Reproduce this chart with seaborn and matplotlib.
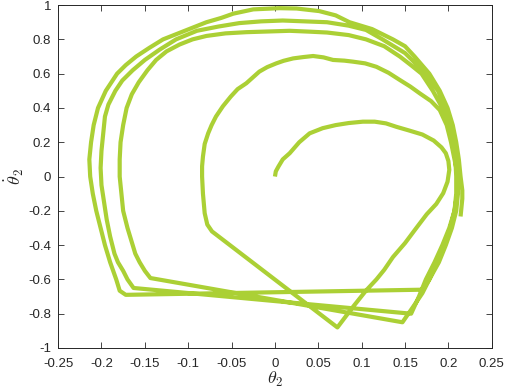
import matplotlib
matplotlib.use("Agg")
import matplotlib.pyplot as plt
import seaborn as sns
import pandas as pd

# Phase trajectory (theta_2, theta_2 dot)
theta2 = [
    # loop 1 (from origin)
    0.0, 0.001, 0.004, 0.009, 0.017, 0.028, 0.04, 0.055, 0.07, 0.085, 0.1014, 0.115, 0.128, 0.14,
    0.155, 0.17, 0.183, 0.192, 0.197, 0.2, 0.201, 0.199, 0.194, 0.186, 0.175, 0.163, 0.15, 0.136,
    0.126, 0.117, 0.105, 0.09, 0.072,
    # jump, loop 2
    -0.0726, -0.078, -0.081, -0.083, -0.084, -0.084, -0.083, -0.081, -0.077, -0.073, -0.068, -0.06,
    -0.051, -0.043, -0.033, -0.025, -0.018, -0.009, 0.0015, 0.01, 0.021, 0.033, 0.044, 0.056,
    0.067, 0.08, 0.09, 0.104, 0.117, 0.131, 0.144, 0.156, 0.167, 0.18, 0.19, 0.198, 0.203, 0.207,
    0.209, 0.211, 0.21, 0.207, 0.202, 0.195, 0.187, 0.178, 0.17, 0.162, 0.147,
    # jump, loop 3
    -0.1436, -0.15, -0.156, -0.161, -0.164, -0.17, -0.175, -0.177, -0.179, -0.179, -0.178, -0.175,
    -0.171, -0.165, -0.157, -0.147, -0.137, -0.125, -0.11, -0.095, -0.079, -0.057, -0.033, -0.008,
    0.017, 0.04, 0.06, 0.085, 0.105, 0.126, 0.144, 0.158, 0.169, 0.182, 0.193, 0.2, 0.205, 0.208,
    0.209, 0.209, 0.207, 0.201, 0.193, 0.184, 0.174, 0.166, 0.157,
    # jump, loop 4
    -0.163, -0.17, -0.175, -0.181, -0.185, -0.19, -0.194, -0.197, -0.2, -0.201, -0.2, -0.198,
    -0.196, -0.192, -0.184, -0.176, -0.164, -0.15, -0.133, -0.114, -0.09, -0.065, -0.041, -0.016,
    0.009, 0.035, 0.06, 0.085, 0.105, 0.124, 0.15, 0.174, 0.188, 0.197, 0.203, 0.207, 0.21,
    0.211, 0.211, 0.209, 0.204, 0.197, 0.189, 0.178, 0.17,
    # jump, loop 5
    -0.172, -0.179, -0.183, -0.19, -0.196, -0.201, -0.206, -0.21, -0.213, -0.214, -0.212, -0.209,
    -0.204, -0.195, -0.182, -0.172, -0.16, -0.145, -0.129, -0.104, -0.079, -0.062, -0.048, -0.025,
    0.005, 0.025, 0.051, 0.07, 0.086, 0.112, 0.136, 0.15, 0.161, 0.178, 0.19, 0.199, 0.205, 0.209,
    0.212, 0.214, 0.216, 0.216, 0.215, 0.214,
]
theta2_dot = [
    0.0, 0.03, 0.058, 0.1, 0.136, 0.2, 0.252, 0.282, 0.3, 0.312, 0.32, 0.32, 0.31, 0.29,
    0.268, 0.245, 0.21, 0.17, 0.136, 0.09, 0.039, -0.03, -0.097, -0.16, -0.22, -0.3, -0.388, -0.47,
    -0.544, -0.6, -0.665, -0.76, -0.88,
    -0.32, -0.28, -0.214, -0.1, 0.0, 0.06, 0.117, 0.19, 0.252, 0.3, 0.35, 0.41,
    0.466, 0.51, 0.544, 0.58, 0.612, 0.638, 0.66, 0.675, 0.689, 0.697, 0.703, 0.695,
    0.68, 0.676, 0.67, 0.66, 0.64, 0.605, 0.563, 0.525, 0.485, 0.44, 0.388, 0.3, 0.2, 0.1,
    0.05, 0.0, -0.1, -0.2, -0.3, -0.4, -0.5, -0.6, -0.68, -0.74, -0.85,
    -0.592, -0.55, -0.5, -0.45, -0.4, -0.3, -0.2, -0.1, 0.0, 0.1, 0.2, 0.3,
    0.4, 0.48, 0.55, 0.62, 0.68, 0.73, 0.77, 0.8, 0.82, 0.835, 0.842, 0.846,
    0.85, 0.845, 0.84, 0.825, 0.8, 0.76, 0.7, 0.645, 0.6, 0.5, 0.4, 0.3, 0.2, 0.1,
    0.0, -0.1, -0.2, -0.3, -0.4, -0.5, -0.6, -0.7, -0.8,
    -0.65, -0.6, -0.55, -0.5, -0.45, -0.35, -0.25, -0.15, -0.05, 0.05, 0.15, 0.25,
    0.35, 0.42, 0.5, 0.56, 0.62, 0.68, 0.74, 0.8, 0.85, 0.875, 0.895, 0.905,
    0.91, 0.905, 0.9, 0.88, 0.855, 0.8, 0.72, 0.6, 0.5, 0.4, 0.3, 0.2, 0.1,
    0.0, -0.1, -0.2, -0.3, -0.4, -0.5, -0.6, -0.66,
    -0.69, -0.666, -0.6, -0.5, -0.4, -0.3, -0.2, -0.1, 0.0, 0.1, 0.2, 0.3,
    0.4, 0.5, 0.6, 0.65, 0.7, 0.75, 0.8, 0.85, 0.9, 0.925, 0.95, 0.975,
    0.982, 0.98, 0.965, 0.94, 0.9, 0.86, 0.8, 0.76, 0.7, 0.6, 0.5, 0.4, 0.3, 0.2,
    0.1, 0.0, -0.08, -0.13, -0.18, -0.233,
]

xticks = [-0.25, -0.2, -0.15, -0.1, -0.05, 0, 0.05, 0.1, 0.15, 0.2, 0.25]
xticklabels = ["-0.25", "-0.2", "-0.15", "-0.1", "-0.05", "0", "0.05", "0.1", "0.15", "0.2", "0.25"]
yticks = [-1, -0.8, -0.6, -0.4, -0.2, 0, 0.2, 0.4, 0.6, 0.8, 1]
yticklabels = ["-1", "-0.8", "-0.6", "-0.4", "-0.2", "0", "0.2", "0.4", "0.6", "0.8", "1"]

df = pd.DataFrame({"t": range(len(theta2)), "x": theta2, "y": theta2_dot})

sns.set_style("white")
plt.rcParams["font.family"] = ["Liberation Sans", "DejaVu Sans"]
plt.rcParams["mathtext.fontset"] = "cm"

fig = plt.figure(figsize=(5.07, 3.91), dpi=100)
ax = fig.add_axes([0.1146, 0.110, 0.8554, 0.877])

sns.lineplot(data=df, x="x", y="y", sort=False, estimator=None, ax=ax,
             color="#abd035", linewidth=3.0, solid_joinstyle="round", solid_capstyle="butt")

ax.set_xlim(-0.25, 0.25)
ax.set_ylim(-1, 1)
ax.set_xticks(xticks)
ax.set_xticklabels(xticklabels)
ax.set_yticks(yticks)
ax.set_yticklabels(yticklabels)
ax.tick_params(direction="in", length=4, width=0.6, colors="#262626", labelsize=9.5,
               top=True, right=True, bottom=True, left=True, labelcolor="#262626")
ax.tick_params(axis="x", pad=7)
ax.tick_params(axis="y", pad=5)
for s in ax.spines.values():
    s.set_visible(True)
    s.set_color("#262626")
    s.set_linewidth(0.7)

ax.set_xlabel(r"$\theta_2$", fontsize=13, color="#262626", labelpad=0)
ax.set_ylabel(r"$\dot{\theta}_2$", fontsize=13, color="#262626", labelpad=2)

fig.savefig("out.png", dpi=100)
